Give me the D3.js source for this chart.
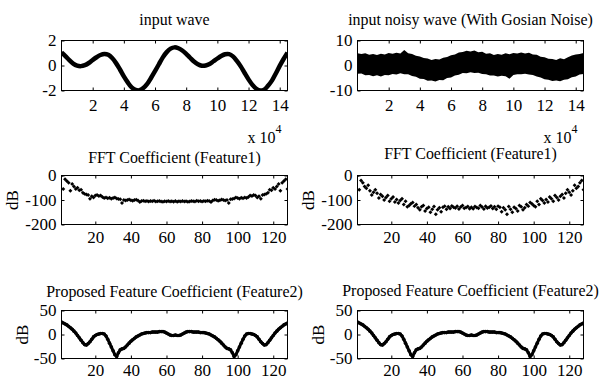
<!DOCTYPE html>
<html>
<head>
<meta charset="utf-8">
<script src="https://cdn.jsdelivr.net/npm/d3@7"></script>
<style>
  body { margin: 0; background: #fff; }
  svg { display: block; }
</style>
</head>
<body>
<svg id="fig" width="602" height="381"></svg>
<script>
var serif = '"Liberation Serif", "Times New Roman", Times, serif';

// input wave, sampled every 0.25 (x 10^4)
var waveStep = 0.25;
var waveY = [1.04, 0.75, 0.43, 0.15, -0.01, -0.05, 0.03, 0.2, 0.44, 0.66, 0.84, 0.92, 0.86, 0.6, 0.19,
  -0.32, -0.87, -1.35, -1.75, -1.95, -1.98, -1.8, -1.47, -0.98, -0.45, 0.1, 0.65, 1.07, 1.35, 1.45,
  1.38, 1.2, 0.93, 0.62, 0.32, 0.1, -0.02, 0.0, 0.12, 0.34, 0.56, 0.76, 0.9, 0.91, 0.73, 0.37,
  -0.07, -0.6, -1.11, -1.55, -1.86, -2.0, -1.93, -1.62, -1.21, -0.64, -0.03, 0.52, 1.03];

// noisy wave: upper and lower edge of the black band, same sampling
var noiseTop = [4.9, 4.6, 4.9, 4.3, 4.6, 4.2, 4.7, 4.4, 5.0, 4.7, 5.1, 4.8, 6.2, 4.9, 4.6,
  3.9, 3.6, 3.0, 2.8, 2.2, 2.6, 2.4, 3.1, 3.4, 4.1, 4.4, 5.2, 5.4, 5.9, 5.6,
  6.0, 5.3, 5.5, 4.7, 4.9, 4.2, 4.6, 4.3, 4.9, 4.5, 5.0, 4.8, 5.2, 4.8, 5.1,
  4.4, 4.3, 3.5, 3.3, 2.7, 2.6, 2.2, 2.9, 2.5, 3.3, 4.0, 4.4, 4.6, 5.0];
var noiseBottom = [-3.3, -3.2, -3.9, -3.8, -4.3, -3.9, -4.4, -3.8, -3.9, -3.4, -3.6, -3.1, -3.5, -3.5, -4.2,
  -4.5, -5.3, -5.4, -6.1, -6.0, -6.4, -5.8, -5.9, -5.0, -4.8, -4.0, -3.7, -3.0, -3.1, -2.7,
  -3.0, -2.9, -3.4, -3.5, -4.0, -4.0, -4.4, -4.1, -4.3, -5.3, -3.8, -3.5, -3.5, -3.3, -3.6,
  -3.8, -4.4, -4.8, -5.5, -5.7, -6.2, -6.0, -6.3, -5.7, -5.5, -4.7, -4.4, -3.6, -3.4];

// FFT coefficient (dB), bins 1..128
var fftClean = [0, -55, -15, -22, -30, -62, -35, -45, -55, -50, -60, -58, -70, -75, -78, -80,
  -95, -85, -90, -82, -80, -84, -82, -88, -92, -90, -93, -91, -95, -92, -90, -94,
  -96, -97, -112, -100, -102, -100, -98, -101, -103, -100, -99, -102, -108, -104, -103, -105,
  -104, -106, -104, -105, -103, -106, -105, -104, -106, -107, -105, -106, -104, -106, -105, -107,
  -104, -107, -105, -106, -104, -106, -105, -107, -106, -104, -105, -106, -103, -105, -104, -106,
  -104, -105, -103, -104, -108, -102, -99, -100, -103, -101, -98, -100, -102, -100, -112, -97,
  -96, -94, -90, -92, -95, -91, -93, -90, -92, -88, -82, -84, -80, -82, -90, -85,
  -95, -80, -78, -75, -70, -58, -60, -50, -55, -45, -35, -62, -30, -22, -15, -55];
var fftNoisy = [0, -58, -20, -30, -45, -52, -40, -62, -80, -68, -58, -72, -92, -78, -85, -100,
  -90, -82, -105, -95, -88, -108, -98, -112, -102, -95, -118, -105, -128, -122, -115, -110,
  -125, -118, -132, -140, -128, -122, -145, -135, -130, -150, -138, -127, -158, -140, -132, -148,
  -130, -125, -138, -128, -135, -124, -130, -133, -126, -137, -129, -122, -134, -131, -127, -136,
  -130, -136, -127, -131, -134, -122, -129, -137, -126, -133, -130, -124, -135, -128, -138, -125,
  -130, -148, -132, -140, -158, -127, -138, -150, -130, -135, -145, -122, -128, -140, -132, -118,
  -125, -110, -115, -122, -128, -105, -118, -95, -102, -112, -98, -108, -88, -95, -105, -82,
  -90, -100, -85, -78, -92, -72, -58, -68, -80, -62, -40, -52, -45, -30, -20, -58];

// proposed feature coefficient (dB), bins 1..128
var feature2 = [26, 24, 22, 20, 17, 14, 11, 7, 3, -2, -7, -12, -17, -21, -22, -19,
  -15, -10, -5, -2, 0, 1, 2, 2, 1, -3, -10, -18, -26, -34, -42, -46,
  -38, -32, -30, -29, -26, -22, -18, -14, -11, -8, -5, -3, -1, 1, 2, 3,
  4, 4, 4, 5, 5, 5, 5, 6, 6, 6, 5, 3, 1, -1, -2, -2,
  -1, -2, -2, -1, 1, 3, 5, 6, 6, 6, 5, 5, 5, 5, 4, 4,
  4, 3, 2, 1, -1, -3, -5, -8, -11, -14, -18, -22, -26, -29, -30, -32,
  -38, -46, -42, -34, -26, -18, -10, -3, 1, 2, 2, 1, 0, -2, -5, -10,
  -15, -19, -22, -21, -17, -12, -7, -2, 3, 7, 11, 14, 17, 20, 22, 24];

var waveTicks = [2, 4, 6, 8, 10, 12, 14];
var binTicks = [20, 40, 60, 80, 100, 120];

var svg = d3.select('#fig');
var defs = svg.append('defs');
var panelCount = 0;

function label(sel, size) {
  return sel.attr('font-family', serif).attr('font-size', size).attr('fill', '#000');
}

function drawPanel(p) {
  var w = p.width, h = p.height;
  var g = svg.append('g').attr('transform', 'translate(' + [p.left + 0.5, p.top + 0.5] + ')');
  var x = d3.scaleLinear().domain(p.xDomain).range([0, w]);
  var y = d3.scaleLinear().domain(p.yDomain).range([h, 0]);
  var fmt = function(d) { return String(d); };

  var clipId = 'clip' + (panelCount++);
  defs.append('clipPath').attr('id', clipId)
    .append('rect').attr('x', -0.5).attr('y', -0.5).attr('width', w + 1).attr('height', h + 1);

  var plot = g.append('g').attr('clip-path', 'url(#' + clipId + ')');
  p.draw(plot, x, y);

  var axes = [
    g.append('g').attr('transform', 'translate(0,' + h + ')')
      .call(d3.axisBottom(x).tickValues(p.xTicks).tickFormat(fmt).tickSizeInner(-3).tickSizeOuter(0).tickPadding(p.xPad)),
    g.append('g')
      .call(d3.axisTop(x).tickValues(p.xTicks).tickFormat('').tickSizeInner(-3).tickSizeOuter(0)),
    g.append('g')
      .call(d3.axisLeft(y).tickValues(p.yTicks).tickFormat(fmt).tickSizeInner(-3).tickSizeOuter(0).tickPadding(5)),
    g.append('g').attr('transform', 'translate(' + w + ',0)')
      .call(d3.axisRight(y).tickValues(p.yTicks).tickFormat('').tickSizeInner(-3).tickSizeOuter(0))
  ];
  axes.forEach(function(a) {
    a.attr('font-family', null).attr('font-size', null);
    a.select('.domain').remove();
    label(a.selectAll('text'), 17);
  });

  g.append('rect').attr('width', w).attr('height', h)
    .attr('fill', 'none').attr('stroke', '#000').attr('stroke-width', 1);

  // titles look slightly tall and narrow in the original
  label(g.append('text'), 17.5)
    .attr('transform', 'translate(' + [w / 2, p.titleY - p.top] + ') scale(0.91,1)')
    .attr('text-anchor', 'middle')
    .text(p.title);

  if (p.yLabel) {
    label(g.append('text'), 17)
      .attr('transform', 'translate(' + [p.yLabelX, h / 2] + ') rotate(-90)')
      .attr('text-anchor', 'middle').attr('dy', '0.35em')
      .text(p.yLabel);
  }
  if (p.exponent) {
    var t = label(g.append('text'), 16)
      .attr('x', w - 40).attr('y', 142 - p.top);
    t.append('tspan').text('x 10');
    t.append('tspan').attr('dy', -10).attr('font-size', 12).text('4');
  }
}

function waveLine(plot, x, y) {
  var line = d3.line()
    .x(function(d, i) { return x(i * waveStep); })
    .y(function(d) { return y(d); })
    .curve(d3.curveCatmullRom);
  plot.append('path').datum(waveY)
    .attr('d', line).attr('fill', 'none').attr('stroke', '#000').attr('stroke-width', 4.5);
}

function noiseBand(plot, x, y) {
  var area = d3.area()
    .x(function(d, i) { return x(i * waveStep); })
    .y0(function(d, i) { return y(noiseBottom[i]); })
    .y1(function(d) { return y(d); });
  plot.append('path').datum(noiseTop)
    .attr('d', area).attr('fill', '#000');
}

function dots(values) {
  return function(plot, x, y) {
    plot.selectAll('path.pt').data(values).enter().append('path')
      .attr('class', 'pt')
      .attr('d', d3.symbol(d3.symbolSquare, 8))
      .attr('transform', function(d, i) { return 'translate(' + [x(i + 1), y(d)] + ') rotate(45)'; })
      .attr('fill', '#000');
  };
}

function featureLine(plot, x, y) {
  var line = d3.line()
    .x(function(d, i) { return x(i + 1); })
    .y(function(d) { return y(d); });
  plot.append('path').datum(feature2)
    .attr('d', line).attr('fill', 'none').attr('stroke', '#000').attr('stroke-width', 3);
  plot.selectAll('circle').data(feature2).enter().append('circle')
    .attr('cx', function(d, i) { return x(i + 1); })
    .attr('cy', function(d) { return y(d); })
    .attr('r', 1.8).attr('fill', '#000');
}

var colLeft = [61, 357];

[0, 1].forEach(function(c) {
  drawPanel({
    left: colLeft[c], top: 40, width: 226, height: 50,
    xDomain: [0, 14.5], yDomain: c ? [-10, 10] : [-2, 2],
    xTicks: waveTicks, yTicks: c ? [-10, 0, 10] : [-2, 0, 2], xPad: 8,
    title: c ? 'input noisy wave (With Gosian Noise)' : 'input wave', titleY: 24,
    exponent: true,
    draw: c ? noiseBand : waveLine
  });
  drawPanel({
    left: colLeft[c], top: 175, width: 226, height: 49,
    xDomain: [1, 128], yDomain: [-200, 0],
    xTicks: binTicks, yTicks: [-200, -100, 0], xPad: 6,
    title: 'FFT Coefficient (Feature1)', titleY: c ? 158 : 162,
    yLabel: 'dB', yLabelX: -49,
    draw: dots(c ? fftNoisy : fftClean)
  });
  drawPanel({
    left: colLeft[c], top: 310, width: 226, height: 48,
    xDomain: [1, 128], yDomain: [-50, 50],
    xTicks: binTicks, yTicks: [-50, 0, 50], xPad: 5,
    title: 'Proposed Feature Coefficient (Feature2)', titleY: c ? 295 : 296,
    yLabel: 'dB', yLabelX: -39,
    draw: featureLine
  });
});
</script>
</body>
</html>
